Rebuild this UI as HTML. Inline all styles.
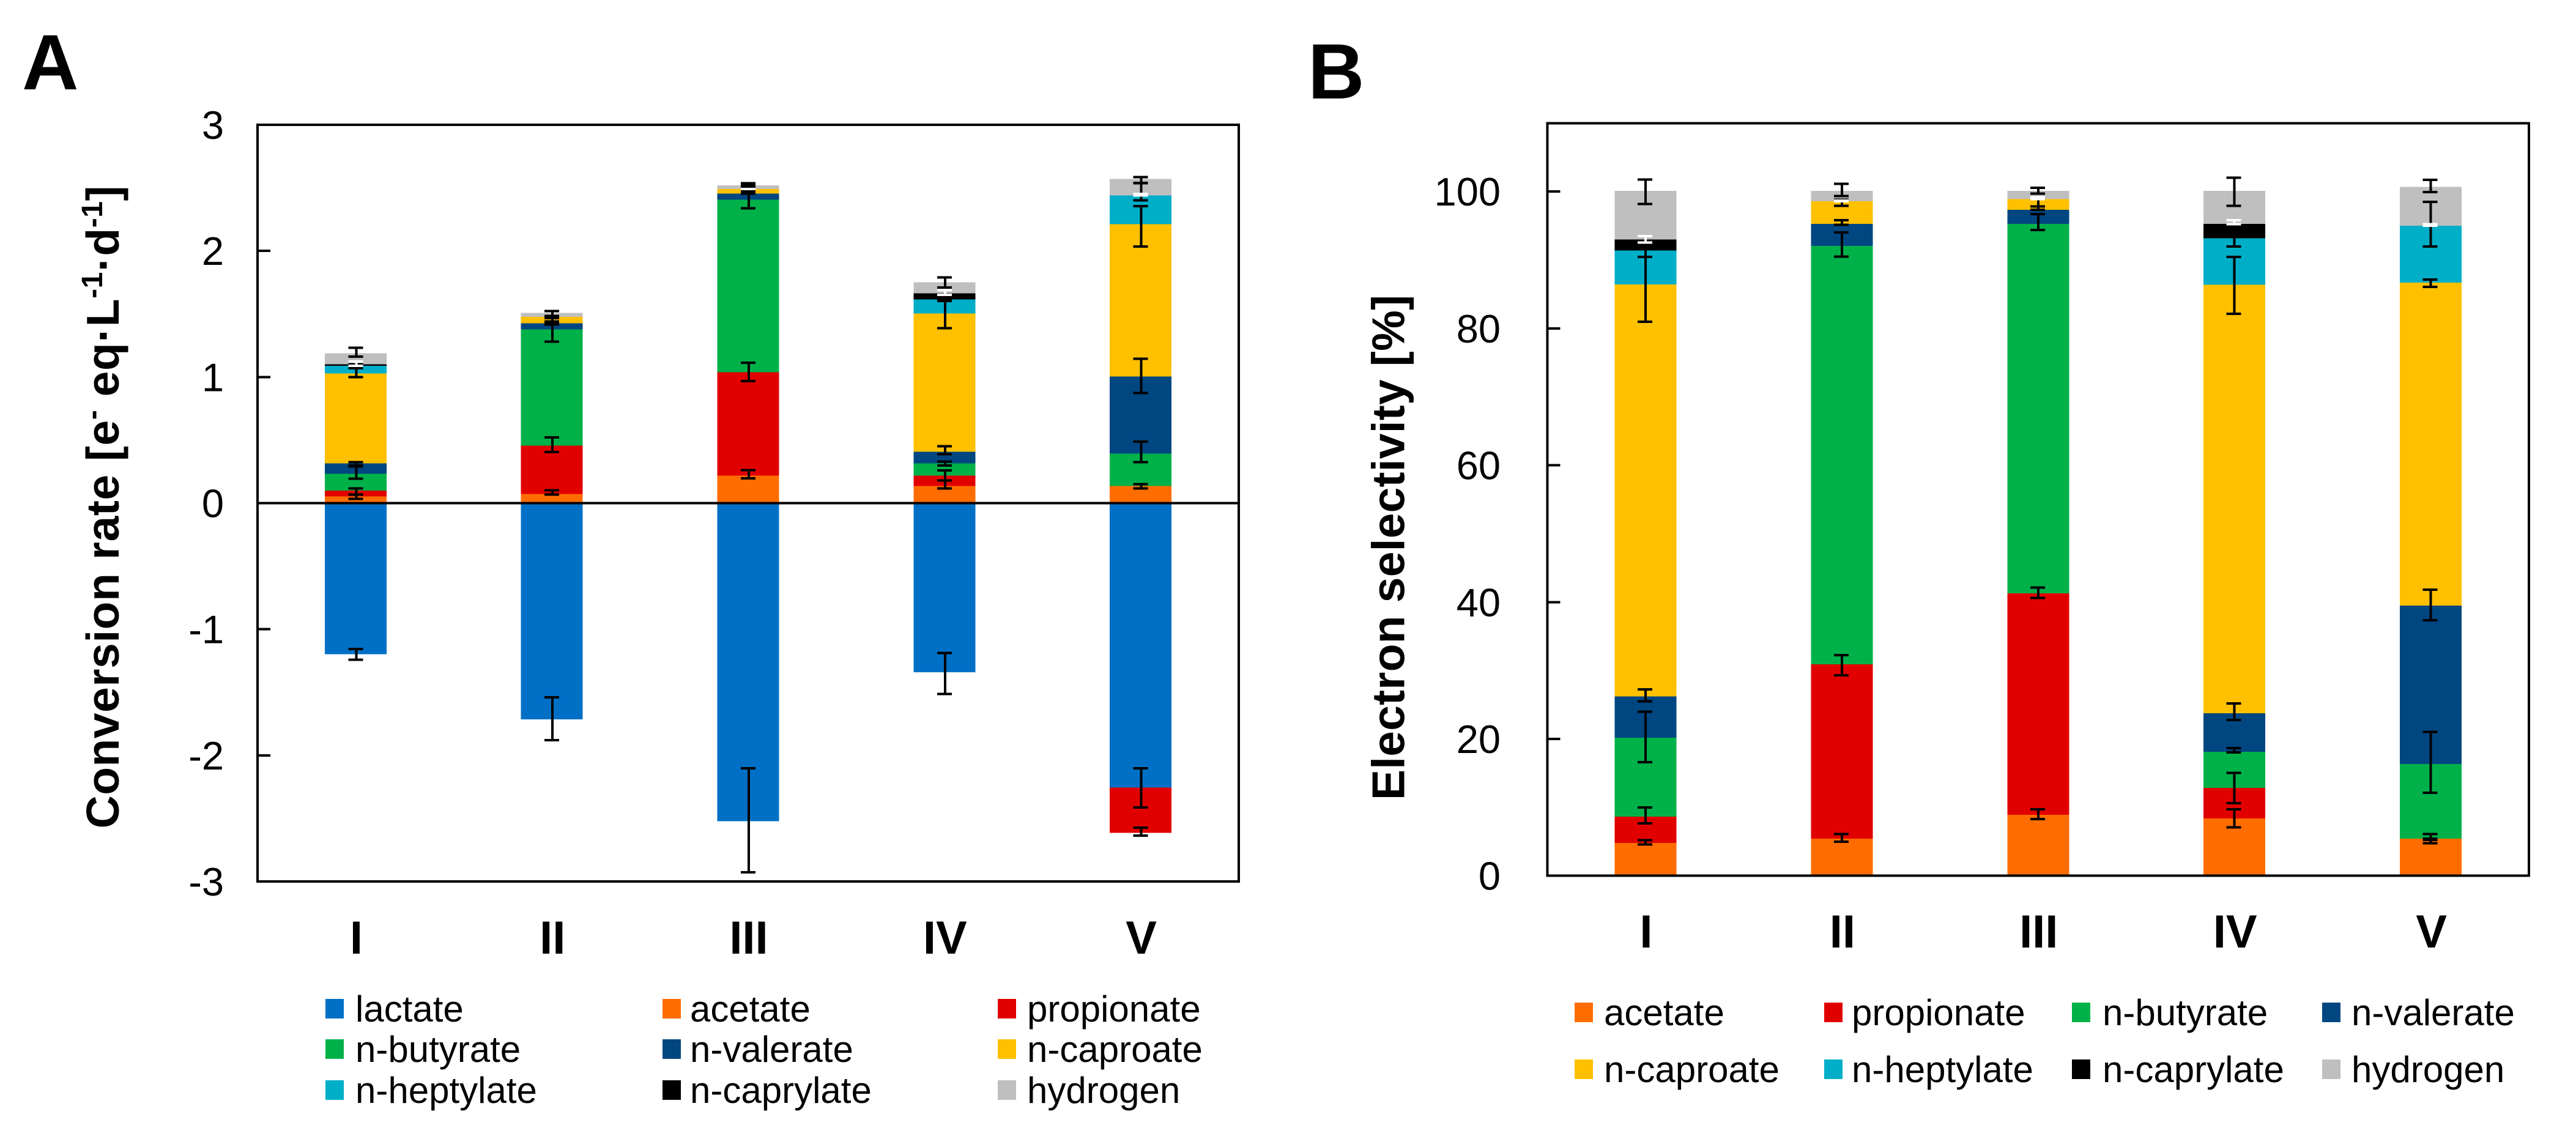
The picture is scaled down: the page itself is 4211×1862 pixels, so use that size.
<!DOCTYPE html>
<html lang="en">
<head>
<meta charset="utf-8">
<title>Conversion rate and electron selectivity</title>
<style>
html,body{margin:0;padding:0;background:#fff;}
svg{display:block;font-family:"Liberation Sans",Arial,sans-serif;}
text{fill:#000;}
</style>
</head>
<body>
<svg id="figure" xmlns="http://www.w3.org/2000/svg" width="4211" height="1862" viewBox="0 0 4211 1862">
  <rect x="0" y="0" width="4211" height="1862" fill="#fff"/>
  <text x="36" y="146" font-size="128" font-weight="700">A</text>
  <text x="2138" y="161" font-size="128" font-weight="700">B</text>
  <text transform="translate(194 1354.5) rotate(-90)" font-size="75" font-weight="700" textLength="1051" lengthAdjust="spacing">Conversion rate [e<tspan font-size="48" dy="-27">-</tspan><tspan dy="27"> eq·L</tspan><tspan font-size="48" dy="-27">-1</tspan><tspan dy="27">·d</tspan><tspan font-size="48" dy="-27">-1</tspan><tspan dy="27">]</tspan></text>
  <text transform="translate(2295.7 1308) rotate(-90)" font-size="75" font-weight="700" textLength="826" lengthAdjust="spacing">Electron selectivity [%]</text>
  <g id="panel-a"></g>
  <g id="panel-b"></g>
</svg>
<script>
// ---- shared categories and series ----
const categories = ['I', 'II', 'III', 'IV', 'V'];
const seriesNamesA = ['lactate', 'acetate', 'propionate', 'n-butyrate', 'n-valerate', 'n-caproate', 'n-heptylate', 'n-caprylate', 'hydrogen'];
const seriesNamesB = ['acetate', 'propionate', 'n-butyrate', 'n-valerate', 'n-caproate', 'n-heptylate', 'n-caprylate', 'hydrogen'];

// ---- panel A: conversion rate, segment sizes per series ----
const ticksA = [3, 2, 1, 0, -1, -2, -3];
const lactateA = [-1.199, -1.714, -2.522, -1.342, -2.255];
const acetateA = [0.053, 0.073, 0.218, 0.137, 0.137];
const propionateA = [0.047, 0.384, 0.819, 0.081, -0.359];
const butyrateA = [0.134, 0.921, 1.368, 0.097, 0.255];
const valerateA = [0.081, 0.048, 0.049, 0.093, 0.612];
const caproateA = [0.713, 0.05, 0.037, 1.095, 1.207];
const heptylateA = [0.062, 0, 0, 0.112, 0.229];
const caprylateA = [0.01, 0, 0, 0.048, 0];
const hydrogenA = [0.088, 0.033, 0.03, 0.088, 0.13];

// panel A: error bars as [above, below] the segment end
const lactateErrA = [[0.043, 0.042], [0.173, 0.165], [0.42, 0.405], [0.154, 0.171], [0.152, 0.158]];
const acetateErrA = [[0.014, 0.019], [0.03, 0.006], [0.044, 0.021], [0.043, 0.021], [0.014, 0.02]];
const propionateErrA = [[0.017, 0.033], [0.064, 0.053], [0.077, 0.07], [0.041, 0.039], [0.042, 0.022]];
const butyrateErrA = [[0.064, 0.039], [0.062, 0.098], [0.058, 0.067], [0.016, 0.017], [0.095, 0.067]];
const valerateErrA = [[0.011, 0.023], [0, 0.01], [0.01, 0], [0.044, 0.02], [0.141, 0.13]];
const caproateErrA = [[0.05, 0.029], [0.009, 0.055], [0.037, 0.02], [0.1, 0.116], [0.144, 0.176]];
const heptylateErrA = [[0.01, 0.02], [0, 0], [0, 0], [0, 0.012], [0.1, 0.04]];
const caprylateErrA = [[0.024, 0.01], [0, 0], [0.006, 0], [0.024, 0.012], [0.011, 0]];
const hydrogenErrA = [[0.044, 0.027], [0.014, 0.042], [0.015, 0.01], [0.04, 0.041], [0.016, 0.033]];

// ---- panel B: electron selectivity, segment sizes per series ----
const ticksB = [100, 80, 60, 40, 20, 0];
const acetateB = [4.79, 5.43, 8.9, 8.39, 5.43];
const propionateB = [3.87, 25.47, 32.38, 4.47, 0];
const butyrateB = [11.54, 61.17, 53.99, 5.26, 10.9];
const valerateB = [6.0, 3.23, 2.09, 5.64, 23.14];
const caproateB = [60.25, 3.3, 1.54, 62.64, 47.23];
const heptylateB = [4.95, 0, 0, 6.8, 8.3];
const caprylateB = [1.6, 0, 0, 2.07, 0];
const hydrogenB = [7.1, 1.5, 1.2, 4.83, 5.7];

// panel B: error bars as [above, below] the segment end
const acetateErrB = [[0.4, 0.2], [0.68, 0.47], [0.8, 0.6], [1.35, 1.32], [0.68, 0.16]];
const propionateErrB = [[1.32, 1.0], [1.36, 1.6], [0.83, 0.69], [2.2, 2.24], [0, 0.68]];
const butyrateErrB = [[3.76, 3.6], [1.97, 1.59], [1.46, 0.89], [0.55, 0.08], [4.68, 4.2]];
const valerateErrB = [[1.04, 0.72], [0.5, 0.13], [0.47, 0.04], [1.43, 1.0], [2.36, 2.11]];
const caproateErrB = [[4.0, 5.45], [0.22, 0.69], [0, 1.07], [4.06, 4.27], [0.44, 0.63]];
const heptylateErrB = [[0.4, 0.95], [0, 0], [0, 0], [0.5, 1.23], [3.49, 3.04]];
const caprylateErrB = [[0.5, 0.45], [0.1, 0], [0.28, 0], [0.55, 0.05], [0.25, 0]];
const hydrogenErrB = [[1.68, 1.92], [1.05, 0.73], [0.47, 0.39], [1.92, 2.2], [1.03, 0.77]];

const colors = {
  'lactate': '#0070C6', 'acetate': '#FF6D00', 'propionate': '#E10000', 'n-butyrate': '#00B14A',
  'n-valerate': '#004680', 'n-caproate': '#FFC000', 'n-heptylate': '#00AEC8', 'n-caprylate': '#000000', 'hydrogen': '#BFBFBF'
};

const SVGNS = 'http://www.w3.org/2000/svg';
function mk(parent, tag, attrs) {
  const el = document.createElementNS(SVGNS, tag);
  for (const k in attrs) el.setAttribute(k, attrs[k]);
  parent.appendChild(el);
  return el;
}

function drawPanel(cfg) {
  const root = document.getElementById(cfg.id);
  const yOf = v => cfg.top + (cfg.yMax - v) * (cfg.bottom - cfg.top) / (cfg.yMax - cfg.yMin);
  const xOf = i => cfg.left + (i + 0.5) * (cfg.right - cfg.left) / categories.length;
  const BAR = 101, CAP = 24, LW = 4;

  // stacked segments
  const ends = cfg.names.map(() => []);
  categories.forEach((cat, i) => {
    let pos = 0, neg = 0;
    cfg.names.forEach((name, s) => {
      const v = cfg.values[s][i];
      const start = v >= 0 ? pos : neg;
      const end = start + v;
      if (v >= 0) pos = end; else neg = end;
      ends[s][i] = end;
      if (v === 0) return;
      const y1 = yOf(Math.max(start, end)), y2 = yOf(Math.min(start, end));
      const seg = mk(root, 'rect', { x: xOf(i) - BAR / 2, y: y1, width: BAR, height: y2 - y1, fill: colors[name], 'shape-rendering': 'crispEdges' });
      
      
    });
  });

  // frame
  const frame = mk(root, 'rect', { x: cfg.left, y: cfg.top, width: cfg.right - cfg.left, height: cfg.bottom - cfg.top, fill: 'none', stroke: '#000', 'stroke-width': LW, 'shape-rendering': 'crispEdges' });
  
  

  // ticks and tick labels
  cfg.ticks.forEach(t => {
    const y = yOf(t);
    if (t !== cfg.yMax && t !== cfg.yMin && t !== 0) {
      const mark = mk(root, 'line', { x1: cfg.left, x2: cfg.left + 21, y1: y, y2: y, stroke: '#000', 'stroke-width': LW, 'shape-rendering': 'crispEdges' });
      
      
    }
    const label = mk(root, 'text', { x: cfg.tickX, y: y + 23, 'font-size': 65, 'text-anchor': 'end' });
    label.textContent = String(t);
    
    
  });

  // zero line
  if (cfg.yMin < 0) {
    const zero = mk(root, 'line', { x1: cfg.left, x2: cfg.right, y1: yOf(0), y2: yOf(0), stroke: '#000', 'stroke-width': LW, 'shape-rendering': 'crispEdges' });
    
    
  }

  // error bars
  cfg.names.forEach((name, s) => {
    const stroke = name === 'n-caprylate' ? '#fff' : '#000';
    categories.forEach((cat, i) => {
      const err = cfg.errors[s][i];
      if (err[0] === 0 && err[1] === 0) return;
      const g = mk(root, 'g', { stroke: stroke, 'stroke-width': LW, 'shape-rendering': 'crispEdges' });
      
      
      const cx = xOf(i) + cfg.capShift;
      const yHi = yOf(ends[s][i] + err[0]), yLo = yOf(ends[s][i] - err[1]);
      mk(g, 'line', { x1: cx + 1, x2: cx + 1, y1: yHi, y2: yLo });
      mk(g, 'line', { x1: cx - CAP / 2, x2: cx + CAP / 2, y1: yHi, y2: yHi });
      mk(g, 'line', { x1: cx - CAP / 2, x2: cx + CAP / 2, y1: yLo, y2: yLo });
    });
  });

  // category labels
  categories.forEach((cat, i) => {
    const label = mk(root, 'text', { x: xOf(i) + 1, y: cfg.catY, 'font-size': 76, 'font-weight': 700, 'text-anchor': 'middle' });
    label.textContent = cat;
    
    
  });

  // legend
  cfg.names.forEach((name, s) => {
    const col = s % cfg.legendCols.length, row = Math.floor(s / cfg.legendCols.length);
    const g = mk(root, 'g', {});
    
    
    mk(g, 'rect', { x: cfg.legendCols[col], y: cfg.legendRows[row], width: 30, height: 32, fill: colors[name], 'shape-rendering': 'crispEdges' });
    const t = mk(g, 'text', { x: cfg.legendText[col], y: cfg.legendRows[row] + 37, 'font-size': 60 });
    t.textContent = name;
  });
}

drawPanel({
  id: 'panel-a', left: 421, right: 2025, top: 204, bottom: 1441, yMin: -3, yMax: 3, ticks: ticksA, tickX: 366, catY: 1559, capShift: 0,
  names: seriesNamesA,
  values: [lactateA, acetateA, propionateA, butyrateA, valerateA, caproateA, heptylateA, caprylateA, hydrogenA],
  errors: [lactateErrA, acetateErrA, propionateErrA, butyrateErrA, valerateErrA, caproateErrA, heptylateErrA, caprylateErrA, hydrogenErrA],
  legendCols: [532, 1083, 1631], legendText: [581, 1128, 1679], legendRows: [1633, 1699, 1766]
});
drawPanel({
  id: 'panel-b', left: 2529.5, right: 4134, top: 201.4, bottom: 1431.7, yMin: 0, yMax: 110, ticks: ticksB, tickX: 2453, catY: 1549, capShift: -1,
  names: seriesNamesB,
  values: [acetateB, propionateB, butyrateB, valerateB, caproateB, heptylateB, caprylateB, hydrogenB],
  errors: [acetateErrB, propionateErrB, butyrateErrB, valerateErrB, caproateErrB, heptylateErrB, caprylateErrB, hydrogenErrB],
  legendCols: [2574, 2982, 3387, 3796], legendText: [2622, 3027, 3437, 3844], legendRows: [1639, 1732]
});
</script>
</body>
</html>
